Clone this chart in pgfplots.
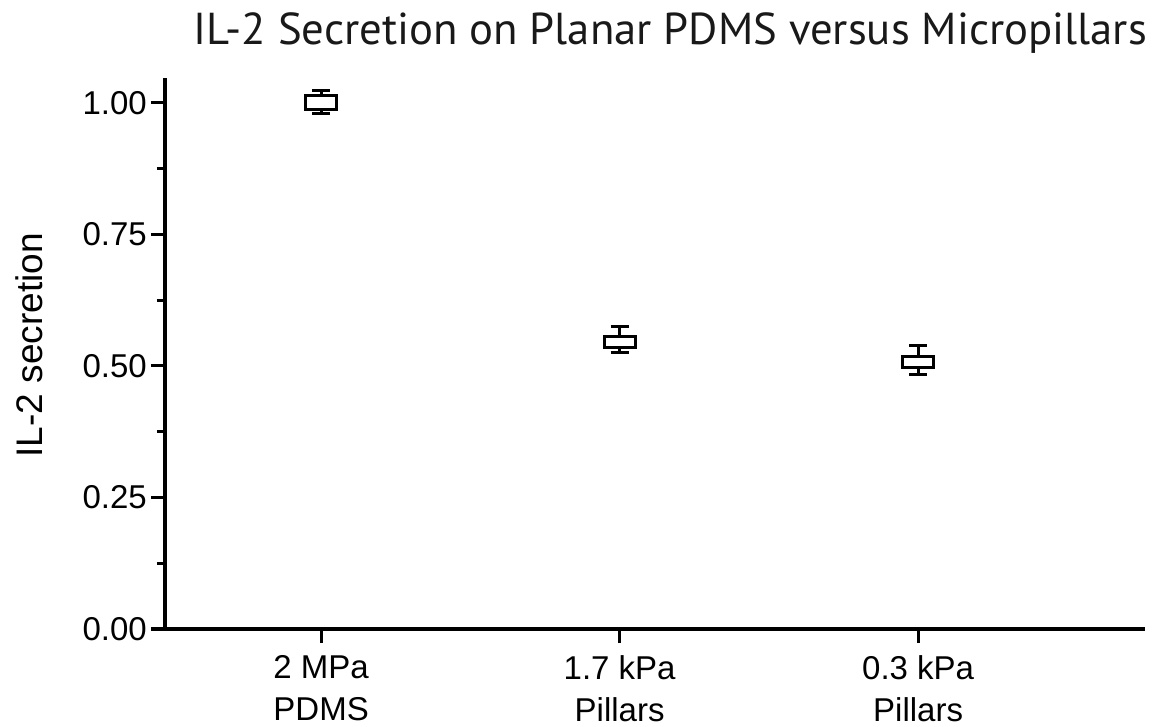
\documentclass[border=0pt]{standalone}
\usepackage{fontspec}
\setmainfont{Liberation Sans}
\newfontfamily\titlefont{PT Sans}
\usepackage{pgfplots}
\pgfplotsset{compat=1.18}
\usepgfplotslibrary{statistics}
\begin{document}
\begin{tikzpicture}
\path[use as bounding box] (0bp,0bp) rectangle (1157bp,727bp);
\begin{axis}[
  at={(165bp,98bp)}, anchor=south west,
  scale only axis, width=980bp, height=551bp,
  xmin=-0.523, xmax=2.76, ymin=0, ymax=1.047,
  axis x line*=bottom, axis y line*=left,
  axis line style={-, black},
  x axis line style={line width=4bp},
  y axis line style={line width=3bp},
  tick align=outside,
  major tick length=14bp,
  minor tick length=8bp,
  tick style={black, line width=3bp},
  major tick style={black, line width=3bp},
  minor tick style={black, line width=3bp},
  xtick style={black, line width=3bp},
  ytick style={black, line width=3bp},
  xtick={0,1,2},
  xticklabels={2 MPa\\PDMS, 1.7 kPa\\Pillars, 0.3 kPa\\Pillars},
  ytick={0,0.25,0.5,0.75,1},
  minor ytick={0.125,0.375,0.625,0.875},
  /pgf/number format/assume math mode=true,
  yticklabel style={/pgf/number format/fixed, /pgf/number format/fixed zerofill,
    /pgf/number format/precision=2, inner xsep=4bp},
  ticklabel style={font=\fontsize{33bp}{42bp}\selectfont},
  xticklabel style={align=center, anchor=north, inner ysep=0bp, yshift=-12bp},
  ylabel={IL-2 secretion},
  ylabel style={font=\fontsize{37bp}{40bp}\selectfont,
    at={(axis description cs:-0.138,0.515)}, anchor=center},
  clip=false,
  boxplot/draw direction=y,
  boxplot/every box/.style={line width=3bp},
  boxplot/every whisker/.style={line width=3bp},
  boxplot/every median/.style={line width=3bp},
]
% whisker/box values per condition (normalised secretion)
\addplot[black, line width=3bp, boxplot prepared={draw position=0,
  lower whisker=0.979, lower quartile=0.987, median=0.987,
  upper quartile=1.013, upper whisker=1.023,
  box extend=0.104, whisker extend=0.06}] coordinates {};
\addplot[black, line width=3bp, boxplot prepared={draw position=1,
  lower whisker=0.525, lower quartile=0.534, median=0.534,
  upper quartile=0.555, upper whisker=0.574,
  box extend=0.104, whisker extend=0.06}] coordinates {};
\addplot[black, line width=3bp, boxplot prepared={draw position=2,
  lower whisker=0.483, lower quartile=0.496, median=0.496,
  upper quartile=0.518, upper whisker=0.539,
  box extend=0.104, whisker extend=0.06}] coordinates {};
\end{axis}
\node[anchor=base, font=\titlefont\fontsize{44.7bp}{48bp}\selectfont, text=black!90]
  at (670bp,682bp) {IL-2 Secretion on Planar PDMS versus Micropillars};
\end{tikzpicture}
\end{document}
